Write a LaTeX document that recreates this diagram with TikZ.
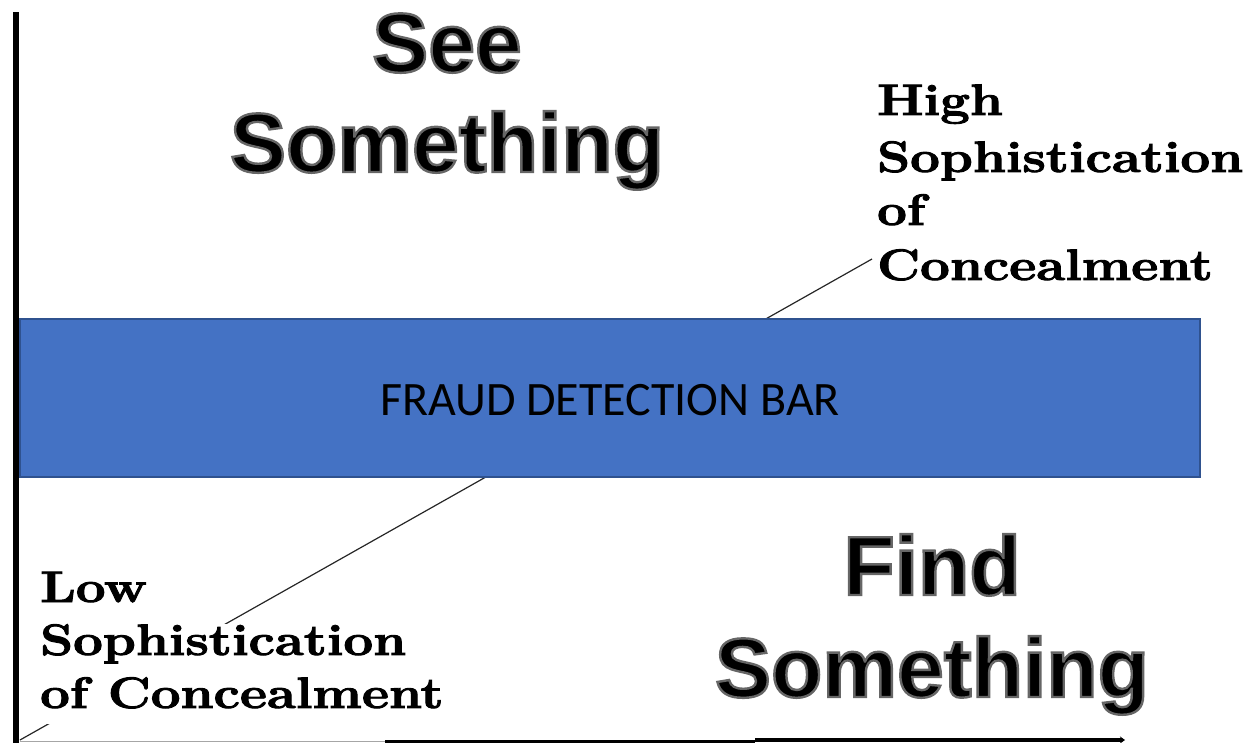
\documentclass[tikz,border=0pt]{standalone}
\usepackage{fontspec}
\usepackage{graphicx}
\usetikzlibrary{arrows.meta,backgrounds}
\newfontfamily\headfont{Liberation Sans}
\newfontfamily\barfont{Carlito}
\definecolor{barfill}{HTML}{4472C4}
\definecolor{barline}{HTML}{2F528F}
% wide, heavy serif letters for the axis labels
\newcommand{\wide}[1]{\scalebox{1.2}[1]{\special{pdf:literal direct q 2 Tr 0.9 w 0 G}#1\special{pdf:literal direct Q}}}
% black letters with a grey rim: fill-and-stroke text rendering
\newcommand{\rimmed}[1]{\special{pdf:literal direct q 2 Tr 2.4 w 0.40 G}#1\special{pdf:literal direct Q}}
\tikzset{
  headline/.style={font=\headfont\bfseries\fontsize{84}{101}\selectfont, anchor=base, inner sep=0pt},
  sophline/.style={font=\bfseries\fontsize{44}{54}\selectfont, anchor=base west, inner sep=0pt},
  detectbar/.style={draw=barline, line width=1.5pt, fill=barfill, minimum width=1180pt, minimum height=158pt, inner sep=0pt},
  trend/.style={line width=1.2pt, black!85},
}
\begin{document}
\begin{tikzpicture}[x=1pt,y=-1pt]
  \useasboundingbox (0,0) rectangle (1255,743);

  % axes
  \coordinate (origin) at (20,740);
  \draw[line width=5.5pt] (16,743) -- (16,12);
  \draw[line width=1.5pt, gray!70] (20,741.5) -- (385,741.5);
  \draw[line width=2.5pt] (385,741.5) -- (755,741.5);
  \draw[line width=4pt, -{Stealth[length=5pt,width=7pt]}] (755,740) -- (1125,740);

  % fraud detection bar
  \node[detectbar] (bar) at (610,398) {};
  \node[font=\barfont\fontsize{48}{56}\selectfont, inner sep=0pt] (bartext) at (610,400) {FRAUD DETECTION BAR};

  % headings
  \node[headline] (see)  at (447,72)  {\rimmed{See}};
  \node[headline] (seeS) at (447,172) {\rimmed{Something}};
  \node[headline] (find) at (932,595) {\rimmed{Find}};
  \node[headline] (findS) at (932,697) {\rimmed{Something}};

  % high sophistication label
  \node[sophline] (hh) at (877,115) {\wide{High}};
  \node[sophline] (hs) at (877,172) {\wide{Sophistication}};
  \node[sophline] (ho) at (877,225) {\wide{of}};
  \node[sophline] (hc) at (877,280) {\wide{Concealment}};
  \coordinate (hiend) at (872,259);

  % low sophistication label
  \node[sophline] (lh) at (40,602) {\wide{Low}};
  \node[sophline] (ls) at (40,655) {\wide{Sophistication}};
  \node[sophline] (lc) at (40,708) {\wide{of Concealment}};

  \begin{scope}[on background layer]
    \draw[trend] (origin) -- (hiend);
    \fill[white] (ls.north west) rectangle ([yshift=-15pt]lc.south east);
  \end{scope}
\end{tikzpicture}
\end{document}
